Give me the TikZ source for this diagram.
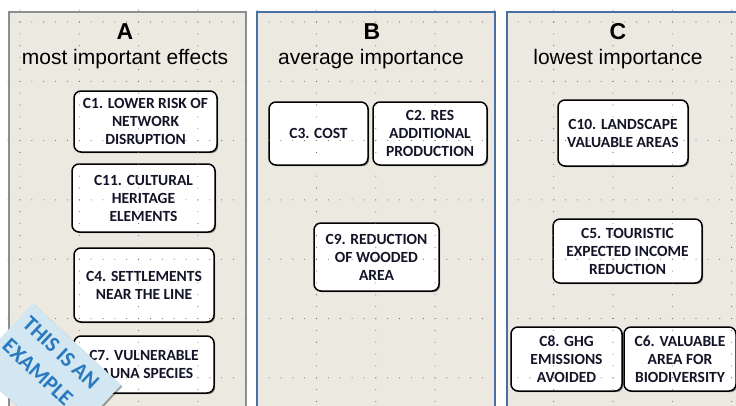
\documentclass[tikz,border=0pt]{standalone}
\usepackage{fontspec}
\setmainfont{Liberation Sans}
\newfontfamily\boxfont{Carlito}
\usetikzlibrary{shadows}
\definecolor{panelbg}{HTML}{ECE9E0}
\definecolor{panelblue}{HTML}{4A6EA6}
\definecolor{panelgray}{HTML}{8E8E8E}
\definecolor{bannerbg}{HTML}{D2E7F1}
\definecolor{bannertext}{HTML}{2A7AC0}
\definecolor{griddot}{HTML}{6E6E6E}
\definecolor{boxtext}{HTML}{141428}

\begin{document}
\begin{tikzpicture}[x=1pt,y=-1pt,
  panel/.style={fill=panelbg,line width=2pt},
  crit/.style={draw=black,fill=white,line width=1.5pt,rounded corners=7pt,
    align=center,inner sep=2pt,text=boxtext,
    font=\boxfont\bfseries\fontsize{15.5}{18}\selectfont,
    drop shadow={shadow xshift=1.2pt,shadow yshift=-1.2pt,opacity=0.45,fill=black}},
  letter/.style={font=\bfseries\fontsize{23}{23}\selectfont},
  caption/.style={font=\fontsize{21}{21}\selectfont}]

\useasboundingbox (0,0) rectangle (736,405);
\clip (0,0) rectangle (736,405);

\draw[panel,draw=panelgray] (9,12) rectangle (246,420);
\draw[panel,draw=panelblue] (257,12) rectangle (495,420);
\draw[panel,draw=panelblue] (507,12) rectangle (760,420);

\node[letter] (ta) at (125,32) {A};
\node[caption] (sa) at (125,59) {most important effects};
\node[letter] (tb) at (372,32) {B};
\node[caption] (sb) at (371,59) {average importance};
\node[letter] (tc) at (618,32) {C};
\node[caption] (sc) at (618,59) {lowest importance};

\node[crit,minimum width=143,minimum height=61] (c1) at (145.5,121.5) {C1. LOWER RISK OF\\NETWORK\\DISRUPTION};
\node[crit,minimum width=143,minimum height=68] (c11) at (143.5,198) {C11. CULTURAL\\HERITAGE\\ELEMENTS};
\node[crit,minimum width=140,minimum height=74] (c4) at (144,285) {C4. SETTLEMENTS\\NEAR THE LINE};
\node[crit,minimum width=140,minimum height=57] (c7) at (144,364.5) {C7. VULNERABLE\\FAUNA SPECIES};

\node[crit,minimum width=99,minimum height=63] (c3) at (318.5,133.5) {C3. COST};
\node[crit,minimum width=114,minimum height=63] (c2) at (430,133.5) {C2. RES\\ADDITIONAL\\PRODUCTION};
\node[crit,minimum width=125,minimum height=68] (c9) at (376.5,257) {C9. REDUCTION\\OF WOODED\\AREA};

\node[crit,minimum width=130,minimum height=66] (c10) at (623,133) {C10. LANDSCAPE\\VALUABLE AREAS};
\node[crit,minimum width=149,minimum height=64] (c5) at (627.5,251) {C5. TOURISTIC\\EXPECTED INCOME\\REDUCTION};
\node[crit,minimum width=111,minimum height=64] (c8) at (566.5,359) {C8. GHG\\EMISSIONS\\AVOIDED};
\node[crit,minimum width=112,minimum height=64] (c6) at (680,359) {C6. VALUABLE\\AREA FOR\\BIODIVERSITY};

\foreach \gx in {0,...,12}
  \foreach \m in {-2,...,33}
    \fill[griddot] (20+59.3*\gx,22+11.86*\m) circle (0.55);
\foreach \gy in {0,...,6}
  \foreach \n in {-1,...,62}
    \fill[griddot] (20+11.86*\n,22+59.3*\gy) circle (0.55);

\node[rotate=-43,anchor=north west,fill=bannerbg,minimum width=120,minimum height=86,
  drop shadow={shadow xshift=1.5pt,shadow yshift=-1.5pt,opacity=0.35,fill=black}]
  (demo) at (33,303) {};
\node[rotate=-43,anchor=north west,align=left,inner xsep=7pt,inner ysep=10pt,
  text=bannertext,font=\boxfont\bfseries\fontsize{22}{30}\selectfont]
  (demotext) at (demo.north west) {THIS IS AN\\EXAMPLE};

\end{tikzpicture}
\end{document}
